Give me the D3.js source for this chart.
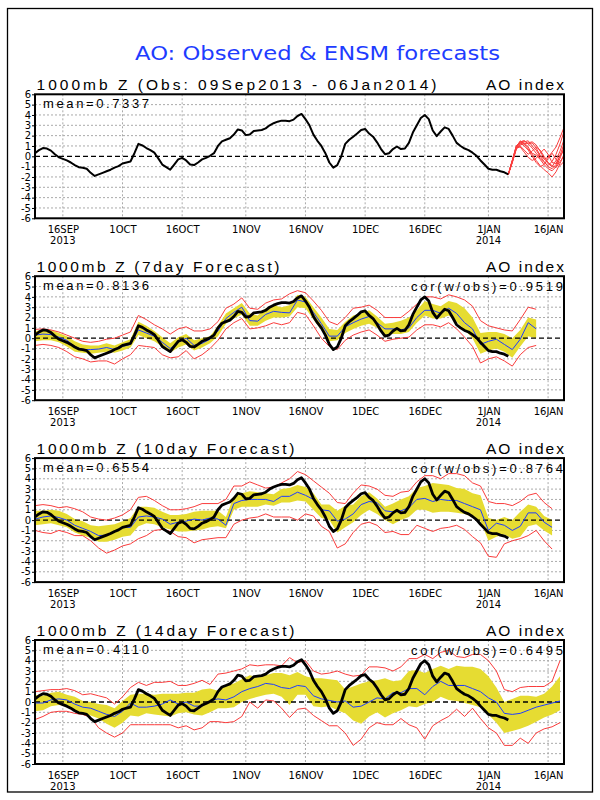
<!DOCTYPE html>
<html>
<head>
<meta charset="utf-8">
<script src="https://cdn.jsdelivr.net/npm/d3@7"></script>
<style>
body { margin: 0; background: #fff; }
.lbl { font-family: 'Liberation Sans', Arial, sans-serif; }
</style>
</head>
<body>
<div id="chart"></div>
<script>
// ---- data (AO index, daily from 09Sep2013) ----
var tickLabels = ["16SEP", "1OCT", "16OCT", "1NOV", "16NOV", "1DEC", "16DEC", "1JAN", "16JAN"];
var tickDates = ["2013-09-16", "2013-10-01", "2013-10-16", "2013-11-01", "2013-11-16", "2013-12-01", "2013-12-16", "2014-01-01", "2014-01-16"];
var yearLabels = [["2013-09-16", "2013"], ["2014-01-01", "2014"]];
var yTicks = [-6, -5, -4, -3, -2, -1, 0, 1, 2, 3, 4, 5, 6];

// observed, 09Sep2013 .. 06Jan2014
var obs = [0.3, 0.6, 0.8, 0.75, 0.55, 0.2, -0.1, -0.25, -0.4, -0.6,
  -0.85, -1.05, -1.1, -1.2, -1.6, -1.9, -1.75, -1.6, -1.45, -1.3,
  -1.1, -0.95, -0.7, -0.6, -0.5, 0.3, 1.2, 1.05, 0.8, 0.6,
  0.35, -0.2, -0.8, -1.05, -1.3, -0.8, -0.3, -0.15, -0.4, -0.8,
  -0.85, -0.6, -0.3, -0.15, 0.05, 0.3, 1.0, 1.45, 1.6, 1.75,
  2.1, 2.6, 2.5, 2.05, 2.1, 2.45, 2.5, 2.55, 2.7, 3.0,
  3.2, 3.35, 3.45, 3.45, 3.4, 3.55, 3.9, 4.1, 3.6, 3.0,
  2.1, 1.5, 1.0, 0.3, -0.6, -1.1, -0.85, 0.0, 1.2, 1.6,
  1.9, 2.2, 2.55, 2.65, 2.2, 1.9, 1.35, 0.7, 0.2, 0.3,
  0.7, 0.95, 0.7, 0.75, 1.3, 2.3, 3.0, 3.7, 4.0, 3.6,
  2.5, 1.95, 2.4, 2.8, 2.65, 2.0, 1.3, 1.0, 0.75, 0.6,
  0.35, 0.05, -0.4, -0.8, -1.2, -1.3, -1.3, -1.45, -1.55, -1.75];

// ensemble members issued 06Jan2014, daily to 20Jan2014
var ensMembers = [
  [-1.75, -0.4, 1.0, 1.4, 1.5, 1.2, 0.8, 0.3, -0.2, -0.6, -0.9, -0.5, 0.2, 1.2, 2.4],
  [-1.75, -0.5, 0.8, 1.3, 1.4, 1.5, 1.0, 0.6, 0.0, -0.5, -1.0, -1.2, -0.8, 0.0, 0.6],
  [-1.75, -0.6, 0.7, 1.2, 1.3, 0.9, 0.2, -0.4, -0.9, -1.3, -1.6, -2.0, -1.5, -0.7, 0.2],
  [-1.75, -0.4, 0.9, 1.5, 1.2, 1.3, 1.4, 1.1, 0.5, -0.2, -0.7, -1.0, -0.4, 0.5, 1.6],
  [-1.75, -0.5, 0.8, 1.0, 0.6, 0.2, 0.5, 0.9, 0.6, 0.0, -0.6, -0.9, -1.1, -0.5, 0.0],
  [-1.75, -0.4, 1.0, 1.3, 1.0, 0.6, 0.0, -0.6, -1.0, -0.8, -0.2, 0.3, -0.3, -0.9, -0.5],
  [-1.75, -0.5, 0.9, 1.4, 1.5, 1.2, 1.3, 0.8, 0.1, -0.3, -0.1, 0.4, 0.9, 1.8, 2.8],
  [-1.75, -0.6, 0.7, 1.1, 1.2, 0.7, 0.3, 0.1, -0.3, -0.8, -1.2, -1.4, -1.0, -0.2, 0.9],
  [-1.75, -0.5, 0.8, 0.9, 0.4, -0.1, -0.4, -0.2, 0.3, 0.7, 0.2, -0.6, -0.7, 0.1, 1.2]
];
var ensStartDay = 119;

// forecasts, every 2nd verifying day from 09Sep2013
var fc7Mean = [0.3, 0.4, 0.35, 0.1, -0.2, -0.8, -1.1, -1.1, -1.05, -0.9, -1.1, -0.8, -0.6, 0.8, 0.5, 0.2, -0.4, -1.0, -0.4, 0.0, -0.7, -0.5, -0.1, 0.7, 1.9, 2.5, 3.0, 1.7, 1.65, 2.3, 2.6, 2.5, 2.45,
  3.7, 3.5, 2.5, 1.4, 0.2, 0.2, 1.1, 1.5, 1.85, 2.1, 1.5, 0.9, 0.9, 0.8, 1.0, 2.0, 2.7, 2.7, 2.4, 2.9, 2.4, 1.5, 0.9, -0.6, -0.3, -0.1, -0.6, -1.1, -0.1, 1.5, 0.9];
var fc7BandLo = [-0.3, -0.2, -0.2, -0.4, -0.8, -1.3, -1.4, -1.5, -1.4, -1.3, -1.4, -1.2, -0.9, 0.3, 0.0, -0.3, -0.8, -1.4, -0.9, -0.6, -1.2, -0.9, -0.5, 0.2, 1.4, 1.9, 2.3, 1.2, 1.2, 1.7, 2.0, 2.0, 2.1,
  3.0, 2.9, 1.8, 0.8, -0.3, -0.2, 0.5, 0.9, 1.2, 1.4, 1.0, 0.3, 0.4, 0.4, 0.6, 1.5, 2.2, 1.9, 1.9, 2.2, 1.6, 0.8, 0.0, -1.5, -1.2, -1.0, -1.3, -1.9, -0.8, 0.2, 0.0];
var fc7BandHi = [0.7, 0.8, 0.8, 0.5, 0.2, -0.3, -0.6, -0.7, -0.7, -0.5, -0.7, -0.4, -0.1, 1.6, 1.2, 0.7, 0.1, -0.5, 0.1, 0.4, -0.2, 0.0, 0.2, 1.2, 2.4, 2.9, 3.4, 2.4, 2.2, 2.9, 3.2, 3.0, 3.2,
  4.2, 4.0, 3.0, 2.0, 0.9, 0.8, 1.6, 2.2, 2.4, 2.7, 2.1, 1.4, 1.5, 1.7, 2.0, 2.7, 3.6, 3.3, 3.1, 3.6, 3.4, 2.9, 2.0, 0.5, 0.6, 0.6, 0.4, 0.0, 0.8, 2.0, 1.8];
var fc7RedLo = [-0.7, -0.6, -0.7, -0.9, -1.3, -1.8, -2.0, -2.3, -2.2, -2.2, -2.5, -2.0, -1.6, -0.7, -0.8, -0.9, -1.6, -1.9, -1.8, -1.2, -2.0, -1.6, -1.0, -0.2, 0.9, 1.5, 1.9, 0.9, 1.0, 1.2, 1.5, 1.3, 1.5,
  2.5, 2.3, 1.2, 0.0, -0.8, -1.1, -0.2, 0.3, 0.6, 0.8, 0.3, -0.3, -0.1, 0.0, 0.1, 0.8, 1.3, 1.3, 1.1, 1.5, 0.9, 0.1, -0.8, -2.4, -2.0, -1.8, -2.2, -2.7, -1.6, -0.9, -0.7];
var fc7RedHi = [0.85, 0.9, 0.8, 0.6, 0.3, 0.0, -0.3, -0.4, -0.3, -0.1, 0.0, 0.3, 0.6, 2.2, 1.8, 1.3, 0.9, 0.4, 0.9, 1.1, 0.7, 0.7, 0.9, 1.6, 2.9, 3.3, 3.9, 2.9, 2.8, 3.4, 3.7, 3.8, 4.3,
  4.6, 4.4, 3.6, 2.7, 1.6, 1.3, 2.0, 2.9, 3.0, 3.2, 2.7, 2.0, 2.0, 2.0, 2.6, 3.3, 4.0, 4.0, 3.8, 4.2, 4.0, 3.7, 3.1, 1.7, 1.2, 1.0, 0.8, 0.7, 1.8, 3.0, 2.8];

var fc10Mean = [0.1, 0.3, 0.4, 0.25, 0.0, -0.5, -0.8, -1.1, -1.5, -1.45, -1.1, -0.7, -0.7, 0.3, 0.4, 0.3, 0.1, -0.4, -0.2, -0.1, 0.1, 0.0, 0.2, 0.1, -0.5, 1.6, 1.9, 2.0, 2.0, 2.0, 1.8, 2.3, 2.3,
  2.7, 2.4, 2.0, 1.0, 0.9, -0.1, 0.1, 0.6, 1.5, 1.8, 1.7, 0.9, 0.8, 0.9, 1.2, 2.0, 2.1, 1.8, 2.0, 1.9, 1.9, 1.6, 1.3, 1.0, -1.0, -0.3, -0.5, -1.0, -0.6, 0.7, 0.7, -0.2, -0.7];
var fc10BandLo = [-0.5, -0.4, -0.3, -0.5, -0.7, -1.2, -1.5, -1.7, -2.1, -2.1, -1.9, -1.6, -1.5, -0.6, -0.3, -0.4, -0.7, -0.9, -1.1, -1.1, -1.0, -0.9, -0.7, -0.6, -0.8, 1.0, 1.3, 1.3, 1.3, 1.5, 1.4, 1.7, 1.7,
  1.9, 1.8, 1.0, 0.2, 0.0, -1.2, -0.7, -0.2, 0.5, 1.0, 0.6, 0.0, -0.4, 0.0, 0.3, 1.0, 1.0, 0.7, 0.8, 0.8, 0.7, 0.6, 0.3, -0.1, -2.0, -1.6, -1.4, -1.8, -1.6, -0.6, -0.4, -1.0, -1.5];
var fc10BandHi = [0.9, 0.9, 1.0, 0.9, 0.6, 0.1, -0.1, -0.5, -0.6, -0.5, -0.4, -0.1, 0.2, 1.3, 1.3, 1.2, 0.8, 0.5, 0.5, 0.6, 0.8, 0.9, 0.9, 0.9, 0.3, 2.3, 2.6, 2.8, 2.7, 2.6, 2.5, 3.0, 3.1,
  3.4, 3.2, 2.6, 1.5, 1.5, 0.9, 1.4, 1.5, 2.3, 2.7, 2.1, 1.3, 1.6, 2.0, 2.3, 3.1, 3.3, 3.6, 3.5, 3.4, 3.1, 3.0, 2.6, 2.4, 0.2, 0.0, 0.3, 0.0, 0.8, 1.5, 1.3, 0.4, 0.0];
var fc10RedLo = [-1.0, -1.2, -1.3, -1.0, -1.2, -1.5, -1.5, -2.0, -2.7, -3.2, -2.9, -2.5, -2.3, -1.8, -1.5, -1.0, -0.9, -1.1, -1.6, -1.7, -2.2, -1.9, -1.8, -1.7, -1.7, -0.4, 0.0, 0.2, 0.3, 0.6, 0.3, 0.3, 0.3,
  0.0, 0.6, 0.4, -0.6, -1.1, -2.7, -2.3, -1.2, -0.4, -0.2, -0.5, -1.2, -1.1, -1.4, -1.4, -0.5, -0.8, -1.1, -0.8, -0.7, -0.5, -0.9, -1.6, -2.2, -3.5, -3.6, -2.3, -2.0, -1.8, -1.5, -1.0, -2.0, -2.8];
var fc10RedHi = [1.4, 1.5, 1.4, 1.2, 1.3, 1.1, 0.8, 0.3, 0.1, 0.0, 0.2, 0.5, 1.0, 2.2, 2.3, 1.9, 1.4, 1.0, 1.0, 1.1, 1.3, 1.6, 1.6, 1.6, 2.0, 3.3, 3.3, 3.7, 3.4, 3.1, 3.2, 3.6, 4.0,
  4.7, 4.4, 3.8, 3.2, 2.6, 1.7, 1.6, 2.6, 3.4, 3.3, 3.0, 2.4, 2.3, 2.7, 2.8, 3.7, 4.3, 4.3, 4.0, 4.5, 4.5, 4.3, 3.6, 3.3, 1.8, 1.6, 1.6, 1.4, 1.8, 2.4, 2.6, 1.7, 1.1];

var fc14Mean = [-0.1, -0.1, 0.2, 0.3, 0.2, -0.2, -0.5, -0.6, -0.9, -1.2, -1.4, -0.9, -0.1, -0.5, -0.5, -0.4, -0.2, 0.2, -0.2, 0.0, -0.4, -0.4, 0.1, 0.3, 0.2, 0.5, 1.0, 1.3, 1.5, 1.8, 1.7, 1.4, 1.3,
  1.6, 1.5, 0.6, 0.3, 0.15, 0.0, 0.1, -0.5, -0.4, 0.0, 0.4, 0.3, 0.9, 0.9, 1.3, 1.3, 0.7, 1.5, 2.0, 1.6, 1.6, 1.6, 1.3, 1.0, 0.4, 0.0, -1.1, -1.2, -1.1, -0.8, -0.5, -0.3, -0.1, 0.1];
var fc14BandLo = [-0.9, -0.8, -0.4, -0.3, -0.4, -0.9, -1.2, -1.3, -1.6, -2.1, -2.5, -2.0, -1.3, -1.4, -1.1, -1.2, -1.3, -1.4, -1.1, -1.0, -1.2, -1.3, -1.0, -0.6, -0.6, -0.5, 0.0, 0.3, 0.5, 0.7, 0.8, 0.5, -0.3,
  0.7, 0.7, -0.4, -0.5, -0.4, -0.8, -1.1, -1.8, -2.1, -1.4, -1.0, -1.5, -1.1, -0.8, -0.4, -0.5, -0.2, 0.0, 0.5, 0.2, 0.1, -0.1, -0.3, -0.5, -1.2, -2.0, -3.0, -2.8, -2.6, -2.3, -1.9, -1.5, -1.2, -0.8];
var fc14BandHi = [0.7, 0.6, 0.9, 1.0, 0.7, 0.5, 0.1, 0.0, -0.2, -0.3, -0.6, 0.1, 0.7, 0.8, 0.8, 0.7, 0.8, 0.8, 0.8, 0.9, 0.9, 1.2, 1.3, 1.1, 1.6, 1.8, 2.2, 2.6, 2.4, 2.6, 2.8, 2.8, 2.6,
  2.9, 2.5, 2.3, 2.3, 2.2, 2.1, 1.2, 1.5, 1.8, 2.0, 2.1, 2.3, 2.0, 2.1, 3.0, 3.1, 2.8, 3.2, 3.5, 3.2, 3.5, 3.4, 3.4, 3.2, 2.5, 1.4, 0.0, 0.3, 0.6, 0.6, 0.5, 0.8, 1.5, 2.5];
var fc14RedLo = [-1.7, -1.4, -1.0, -0.9, -0.9, -1.1, -1.2, -1.5, -2.5, -3.0, -3.4, -3.0, -2.2, -2.2, -2.2, -2.2, -2.2, -2.2, -2.5, -2.3, -2.7, -2.5, -1.9, -1.9, -2.0, -1.9, -1.4, 0.0, -0.6, 0.2, 0.1, -0.6, -1.5,
  -0.7, -0.6, -1.3, -1.8, -2.3, -2.3, -3.0, -4.2, -3.6, -2.5, -2.0, -2.2, -2.2, -1.6, -2.2, -2.5, -3.6, -2.3, -1.8, -1.4, -0.7, -1.4, -0.6, -1.6, -2.5, -3.0, -4.2, -4.2, -3.5, -4.0, -3.0, -2.6, -2.4, -2.0];
var fc14RedHi = [1.0, 1.1, 1.2, 1.2, 1.3, 1.1, 0.7, 0.8, 0.6, 0.4, -0.2, 0.5, 1.4, 1.9, 1.6, 1.9, 1.9, 2.0, 1.6, 1.6, 1.8, 2.1, 1.7, 2.7, 2.8, 3.0, 3.2, 3.6, 3.5, 3.6, 3.6, 3.5, 4.3,
  3.8, 4.0, 3.0, 2.7, 2.8, 3.0, 2.7, 2.5, 2.6, 3.4, 3.4, 3.3, 3.0, 3.4, 4.2, 4.2, 4.6, 4.2, 4.8, 5.0, 4.4, 4.3, 4.6, 4.6, 4.0, 3.0, 1.2, 1.0, 1.4, 1.5, 1.5, 1.5, 2.0, 4.0];
var fcStep = 2;

var panels = [
  { title: "1000mb Z (Obs: 09Sep2013 - 06Jan2014)", titleLen: 400, mean: "mean=0.7337", cor: null },
  { title: "1000mb Z (7day Forecast)", titleLen: 243, mean: "mean=0.8136", cor: "cor(w/obs)=0.9519",
    fc: [fc7Mean, fc7BandLo, fc7BandHi, fc7RedLo, fc7RedHi] },
  { title: "1000mb Z (10day Forecast)", titleLen: 258, mean: "mean=0.6554", cor: "cor(w/obs)=0.8764",
    fc: [fc10Mean, fc10BandLo, fc10BandHi, fc10RedLo, fc10RedHi] },
  { title: "1000mb Z (14day Forecast)", titleLen: 258, mean: "mean=0.4110", cor: "cor(w/obs)=0.6495",
    fc: [fc14Mean, fc14BandLo, fc14BandHi, fc14RedLo, fc14RedHi] }
];

// ---- drawing ----
var START = new Date(2013, 8, 9);
var END = new Date(2014, 0, 20);
var parseDay = d3.timeParse("%Y-%m-%d");
function dayDate(n) { return d3.timeDay.offset(START, n); }

var YELLOW = "#e6dc32", RED = "#fa3c3c", BLUE = "#1e3cff";
var left = 35, right = 564, boxH = 124;

var svg = d3.select("#chart").append("svg")
    .attr("width", 600)
    .attr("height", 800)
    .style("font-family", "'DejaVu Sans', sans-serif");

svg.append("rect")
    .attr("x", 7.5).attr("y", 8.5)
    .attr("width", 585).attr("height", 783.5)
    .attr("fill", "none").attr("stroke", "#000").attr("stroke-width", 1.3);

svg.append("text")
    .attr("x", 135).attr("y", 60)
    .attr("font-size", 20)
    .attr("fill", BLUE)
    .attr("textLength", 365).attr("lengthAdjust", "spacingAndGlyphs")
    .text("AO: Observed & ENSM forecasts");

var x = d3.scaleTime().domain([START, END]).range([left, right]);
var obsRows = obs.map(function(v, i) { return { date: dayDate(i), v: v }; });

panels.forEach(function(p, i) {
    var top = 94.3 + i * 181.9;
    var y = d3.scaleLinear().domain([-6, 6]).range([top + boxH, top]);
    var g = svg.append("g");

    // grid
    g.append("g").selectAll("line")
        .data(yTicks.filter(function(d) { return d > -6 && d < 6 && d != 0; }))
        .enter().append("line")
        .attr("x1", left).attr("x2", right)
        .attr("y1", function(d) { return y(d); }).attr("y2", function(d) { return y(d); })
        .attr("stroke", "#aaa").attr("stroke-dasharray", "2,2");
    g.append("g").selectAll("line")
        .data(tickDates)
        .enter().append("line")
        .attr("x1", function(d) { return x(parseDay(d)); }).attr("x2", function(d) { return x(parseDay(d)); })
        .attr("y1", top).attr("y2", top + boxH)
        .attr("stroke", "#aaa").attr("stroke-dasharray", "2,2");

    var line = d3.line().x(function(d) { return x(d.date); }).y(function(d) { return y(d.v); });

    if (p.fc) {
        var rows = p.fc[0].map(function(v, k) {
            return { date: dayDate(k * fcStep), mean: v, lo: p.fc[1][k], hi: p.fc[2][k], rlo: p.fc[3][k], rhi: p.fc[4][k] };
        });
        g.append("path").datum(rows)
            .attr("fill", YELLOW)
            .attr("d", d3.area().x(function(d) { return x(d.date); })
                .y0(function(d) { return y(d.lo); }).y1(function(d) { return y(d.hi); }));
    }

    // zero line
    g.append("line")
        .attr("x1", left).attr("x2", right)
        .attr("y1", y(0)).attr("y2", y(0))
        .attr("stroke", "#000").attr("stroke-width", 1.3).attr("stroke-dasharray", "5,3");

    if (p.fc) {
        ["rlo", "rhi"].forEach(function(key) {
            g.append("path").datum(rows)
                .attr("fill", "none").attr("stroke", RED).attr("stroke-width", 1)
                .attr("d", d3.line().x(function(d) { return x(d.date); }).y(function(d) { return y(d[key]); }));
        });
        g.append("path").datum(rows)
            .attr("fill", "none").attr("stroke", BLUE).attr("stroke-width", 1)
            .attr("d", d3.line().x(function(d) { return x(d.date); }).y(function(d) { return y(d.mean); }));
    } else {
        ensMembers.forEach(function(m) {
            var mr = m.map(function(v, k) { return { date: dayDate(ensStartDay + k), v: v }; });
            g.append("path").datum(mr)
                .attr("fill", "none").attr("stroke", RED).attr("stroke-width", 1)
                .attr("d", line);
        });
    }

    g.append("path").datum(obsRows)
        .attr("fill", "none").attr("stroke", "#000")
        .attr("stroke-width", p.fc ? 2.8 : 2)
        .attr("stroke-linejoin", "round")
        .attr("d", line);

    // frame
    g.append("rect")
        .attr("x", left).attr("y", top)
        .attr("width", right - left).attr("height", boxH)
        .attr("fill", "none").attr("stroke", "#000").attr("stroke-width", 2);

    // axes
    var yAxis = g.append("g")
        .attr("transform", "translate(" + left + ",0)")
        .call(d3.axisLeft(y).tickValues(yTicks).tickSize(3).tickPadding(1)
            .tickFormat(function(d) { return String(d); }));
    yAxis.select(".domain").remove();
    yAxis.selectAll("text").attr("font-size", 10).attr("font-family", "'DejaVu Sans', sans-serif");

    var xAxis = g.append("g")
        .attr("transform", "translate(0," + (top + boxH) + ")")
        .call(d3.axisBottom(x).tickValues(tickDates.map(parseDay)).tickSize(0)
            .tickFormat(function(d, k) { return tickLabels[k]; }));
    xAxis.select(".domain").remove();
    xAxis.selectAll("text")
        .attr("y", 15).attr("dy", 0)
        .attr("font-size", 10).attr("font-family", "'DejaVu Sans', sans-serif");

    g.selectAll(".yr").data(yearLabels).enter().append("text")
        .attr("x", function(d) { return x(parseDay(d[0])); })
        .attr("y", top + boxH + 26)
        .attr("text-anchor", "middle")
        .attr("font-size", 10)
        .text(function(d) { return d[1]; });

    // titles and stats (glyphs kept at natural width, gaps widened)
    g.append("text").attr("class", "lbl")
        .attr("x", 36.5).attr("y", top - 4.5)
        .attr("font-size", 15.5)
        .attr("textLength", p.titleLen).attr("lengthAdjust", "spacing")
        .text(p.title);
    g.append("text").attr("class", "lbl")
        .attr("x", 486).attr("y", top - 4.5)
        .attr("font-size", 15.5)
        .attr("textLength", 78).attr("lengthAdjust", "spacing")
        .text("AO index");
    g.append("text").attr("class", "lbl")
        .attr("x", 43).attr("y", top + 13.5)
        .attr("font-size", 13)
        .attr("textLength", 106).attr("lengthAdjust", "spacing")
        .text(p.mean);
    if (p.cor) {
        g.append("text").attr("class", "lbl")
            .attr("x", 411).attr("y", top + 14.5)
            .attr("font-size", 13)
            .attr("textLength", 152).attr("lengthAdjust", "spacing")
            .text(p.cor);
    }
});
</script>
</body>
</html>
